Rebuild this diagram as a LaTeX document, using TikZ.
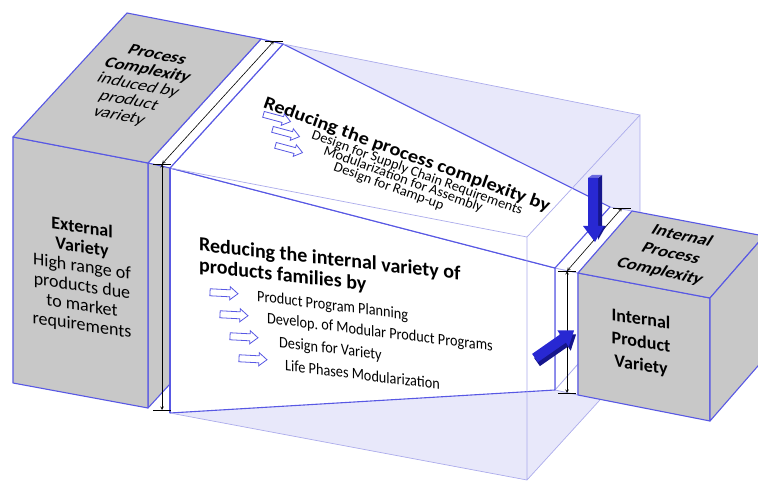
\documentclass[tikz,border=0pt]{standalone}
\usepackage{fontspec}
\setmainfont{Carlito}
\usetikzlibrary{arrows}
\definecolor{edgeblue}{RGB}{88,88,228}
\definecolor{ghostblue}{RGB}{172,172,236}
\definecolor{ghostfill}{RGB}{232,232,250}
\definecolor{boxgray}{RGB}{200,200,200}
\definecolor{arrowblue}{RGB}{40,40,210}
\definecolor{arrowdark}{RGB}{22,22,140}
\tikzstyle{face}=[draw=edgeblue,line width=1.1pt,line join=round,fill=boxgray]
\tikzstyle{whiteface}=[draw=edgeblue,line width=1.1pt,line join=round,fill=white]
\tikzstyle{gapface}=[draw=ghostblue,line width=0.8pt,fill=white]
\tikzstyle{ghostedge}=[draw=ghostblue,line width=0.7pt]
\tikzstyle{dimline}=[black,line width=0.6pt,<->,>=stealth]
\tikzstyle{tick}=[black,line width=0.6pt]
\tikzstyle{hollow}=[draw=edgeblue,fill=white,line width=0.8pt,line join=miter]
\tikzstyle{boxtext}=[align=center,inner sep=0pt]
\tikzstyle{itemtext}=[anchor=west,inner sep=0pt]

\begin{document}
\begin{tikzpicture}[x=1pt,y=-1pt]
\clip (0,0) rectangle (758,481);
% ghost prism of the full size
\coordinate (g1) at (170,168);
\coordinate (g2) at (527,237);
\coordinate (g3) at (527,480);
\coordinate (g4) at (170,413);
\coordinate (g5) at (283,44);
\coordinate (g6) at (640,115);
\coordinate (g7) at (640,356);
% funnel, right end
\coordinate (f2) at (555,268);
\coordinate (f3) at (555,390);
\coordinate (f6) at (610,207);
% left box
\coordinate (l1) at (13,137);
\coordinate (l2) at (148,163);
\coordinate (l3) at (148,408);
\coordinate (l4) at (13,383);
\coordinate (l5) at (127,13);
\coordinate (l6) at (261,39);
% right box
\coordinate (r1) at (578,273);
\coordinate (r2) at (710,298);
\coordinate (r3) at (710,421);
\coordinate (r4) at (578,395);
\coordinate (r5) at (632,211);
\coordinate (r6) at (764,236);
\coordinate (r7) at (764,359);

\fill[ghostfill] (g4)--(g1)--(g5)--(g6)--(g7)--(g3)--cycle;

% gap in front of the right box
\draw[gapface] (f2)--(r1)--(r4)--(f3)--cycle;
\draw[gapface] (f2)--(r1)--(r5)--(f6)--cycle;
\draw[ghostblue,line width=0.8pt] (f3)--(578,364);

% funnel
\draw[whiteface] (g1)--(f2)--(f3)--(g4)--cycle;
\draw[whiteface] (g1)--(f2)--(f6)--(g5)--cycle;
\draw[ghostedge] (g1)--(g2)--(g3)--(g4) (g2)--(g6)--(g5) (g6)--(g7)--(g3);

% gap behind the left box
\draw[face] (l2)--(170,139)--(170,384)--(l3)--cycle;
\draw[whiteface] (l2)--(g1)--(g5)--(l6)--cycle;
\draw[edgeblue,line width=1.1pt] (g1)--(g4);

% boxes
\draw[face] (l1)--(l2)--(l3)--(l4)--cycle;
\draw[face] (l1)--(l2)--(l6)--(l5)--cycle;
\draw[face] (r1)--(r2)--(r3)--(r4)--cycle;
\draw[face] (r1)--(r2)--(r6)--(r5)--cycle;
\draw[face] (r2)--(r6)--(r7)--(r3)--cycle;

% dimension lines
\coordinate (dl1) at (162,164);
\coordinate (dl2) at (162,410);
\coordinate (dl3) at (274,41);
\coordinate (dr1) at (567,271);
\coordinate (dr2) at (567,393);
\coordinate (dr3) at (622,208);
\draw[dimline] (dl1)--(dl2);
\draw[dimline] (dl1)--(dl3);
\draw[dimline] (dr1)--(dr2);
\draw[dimline] (dr1)--(dr3);
\foreach \c in {dl1,dl2,dl3,dr1,dr2,dr3}
	\draw[tick] ([xshift=-9pt]\c)--([xshift=9pt]\c);

% box labels
\node[boxtext,font=\fontsize{18}{19}\selectfont,cm={1,-0.19,0.5,0.8,(0,0)}] (pcomplex) at (138,86)
	{\textbf{Process}\\\textbf{Complexity}\\induced by\\product\\variety};
\node[boxtext,font=\fontsize{18}{19.5}\selectfont,yslant=-0.15] (extvar) at (82,277)
	{\textbf{External}\\\textbf{Variety}\\High range of\\products due\\to market\\requirements};
\node[boxtext,font=\bfseries\fontsize{18}{22}\selectfont,cm={1,-0.22,0.5,0.8,(0,0)}] (intproc) at (671,254)
	{Internal\\Process\\Complexity};
\node[boxtext,font=\bfseries\fontsize{18}{23}\selectfont,yslant=-0.15] (intprod) at (641,343)
	{Internal\\Product\\Variety};

% process complexity measures
\node[itemtext,font=\bfseries\fontsize{18}{20}\selectfont,rotate=-20,xscale=1.14] (proctitle) at (264,103)
	{Reducing the process complexity by};
\foreach \i/\ax/\ay/\tx/\ty/\txt in {1/277/118/312/135/Design for Supply Chain Requirements,
	2/286/133/324/151/Modularization for Assembly,
	3/289/149/334/167/Design for Ramp-up}{
	\draw[hollow,shift={(\ax,\ay)},rotate=-15] (-14,-3)--(6,-3)--(6,-6)--(14,0)--(6,6)--(6,3)--(-14,3)--cycle;
	\node[itemtext,font=\fontsize{14}{15}\selectfont,rotate=-20,xscale=1.03] (pt\i) at (\tx,\ty) {\txt};
}

% product variety measures
\node[itemtext,align=left,font=\bfseries\fontsize{20}{21}\selectfont,yslant=-0.11] (vartitle) at (199,256)
	{Reducing the internal variety of\\products families by};
\foreach \i/\ax/\ay/\tx/\ty/\txt in {1/224/293/257/297/Product Program Planning,
	2/234/315/267/319/Develop.\ of Modular Product Programs,
	3/244/337/279/343/Design for Variety,
	4/253/359/285/365/Life Phases Modularization}{
	\draw[hollow,shift={(\ax,\ay)},rotate=-3] (-14,-3.5)--(6,-3.5)--(6,-6.5)--(14,0)--(6,6.5)--(6,3.5)--(-14,3.5)--cycle;
	\node[itemtext,font=\fontsize{16}{17}\selectfont,cm={0.89,-0.11,0,1,(0,0)}] (vt\i) at (\tx,\ty) {\txt};
}

% big arrows
\fill[arrowdark] (598,178)--(602,175)--(602,226)--(606,226)--(598,240)--(598,226)--cycle;
\fill[arrowblue!70!white] (588,178)--(592,175)--(602,175)--(598,178)--cycle;
\fill[arrowblue] (588,178)--(598,178)--(598,226)--(604,226)--(595,242)--(583,226)--(588,226)--cycle;
\begin{scope}[shift={(2,4)}]
\fill[arrowdark] (537.9,362.1)--(565.9,342.6)--(568.7,346.7)--(574,330.5)--(557.3,330.3)--(560.1,334.4)--(532.1,353.9)--cycle;
\end{scope}
\fill[arrowblue] (537.9,362.1)--(565.9,342.6)--(568.7,346.7)--(574,330.5)--(557.3,330.3)--(560.1,334.4)--(532.1,353.9)--cycle;
\end{tikzpicture}
\end{document}
